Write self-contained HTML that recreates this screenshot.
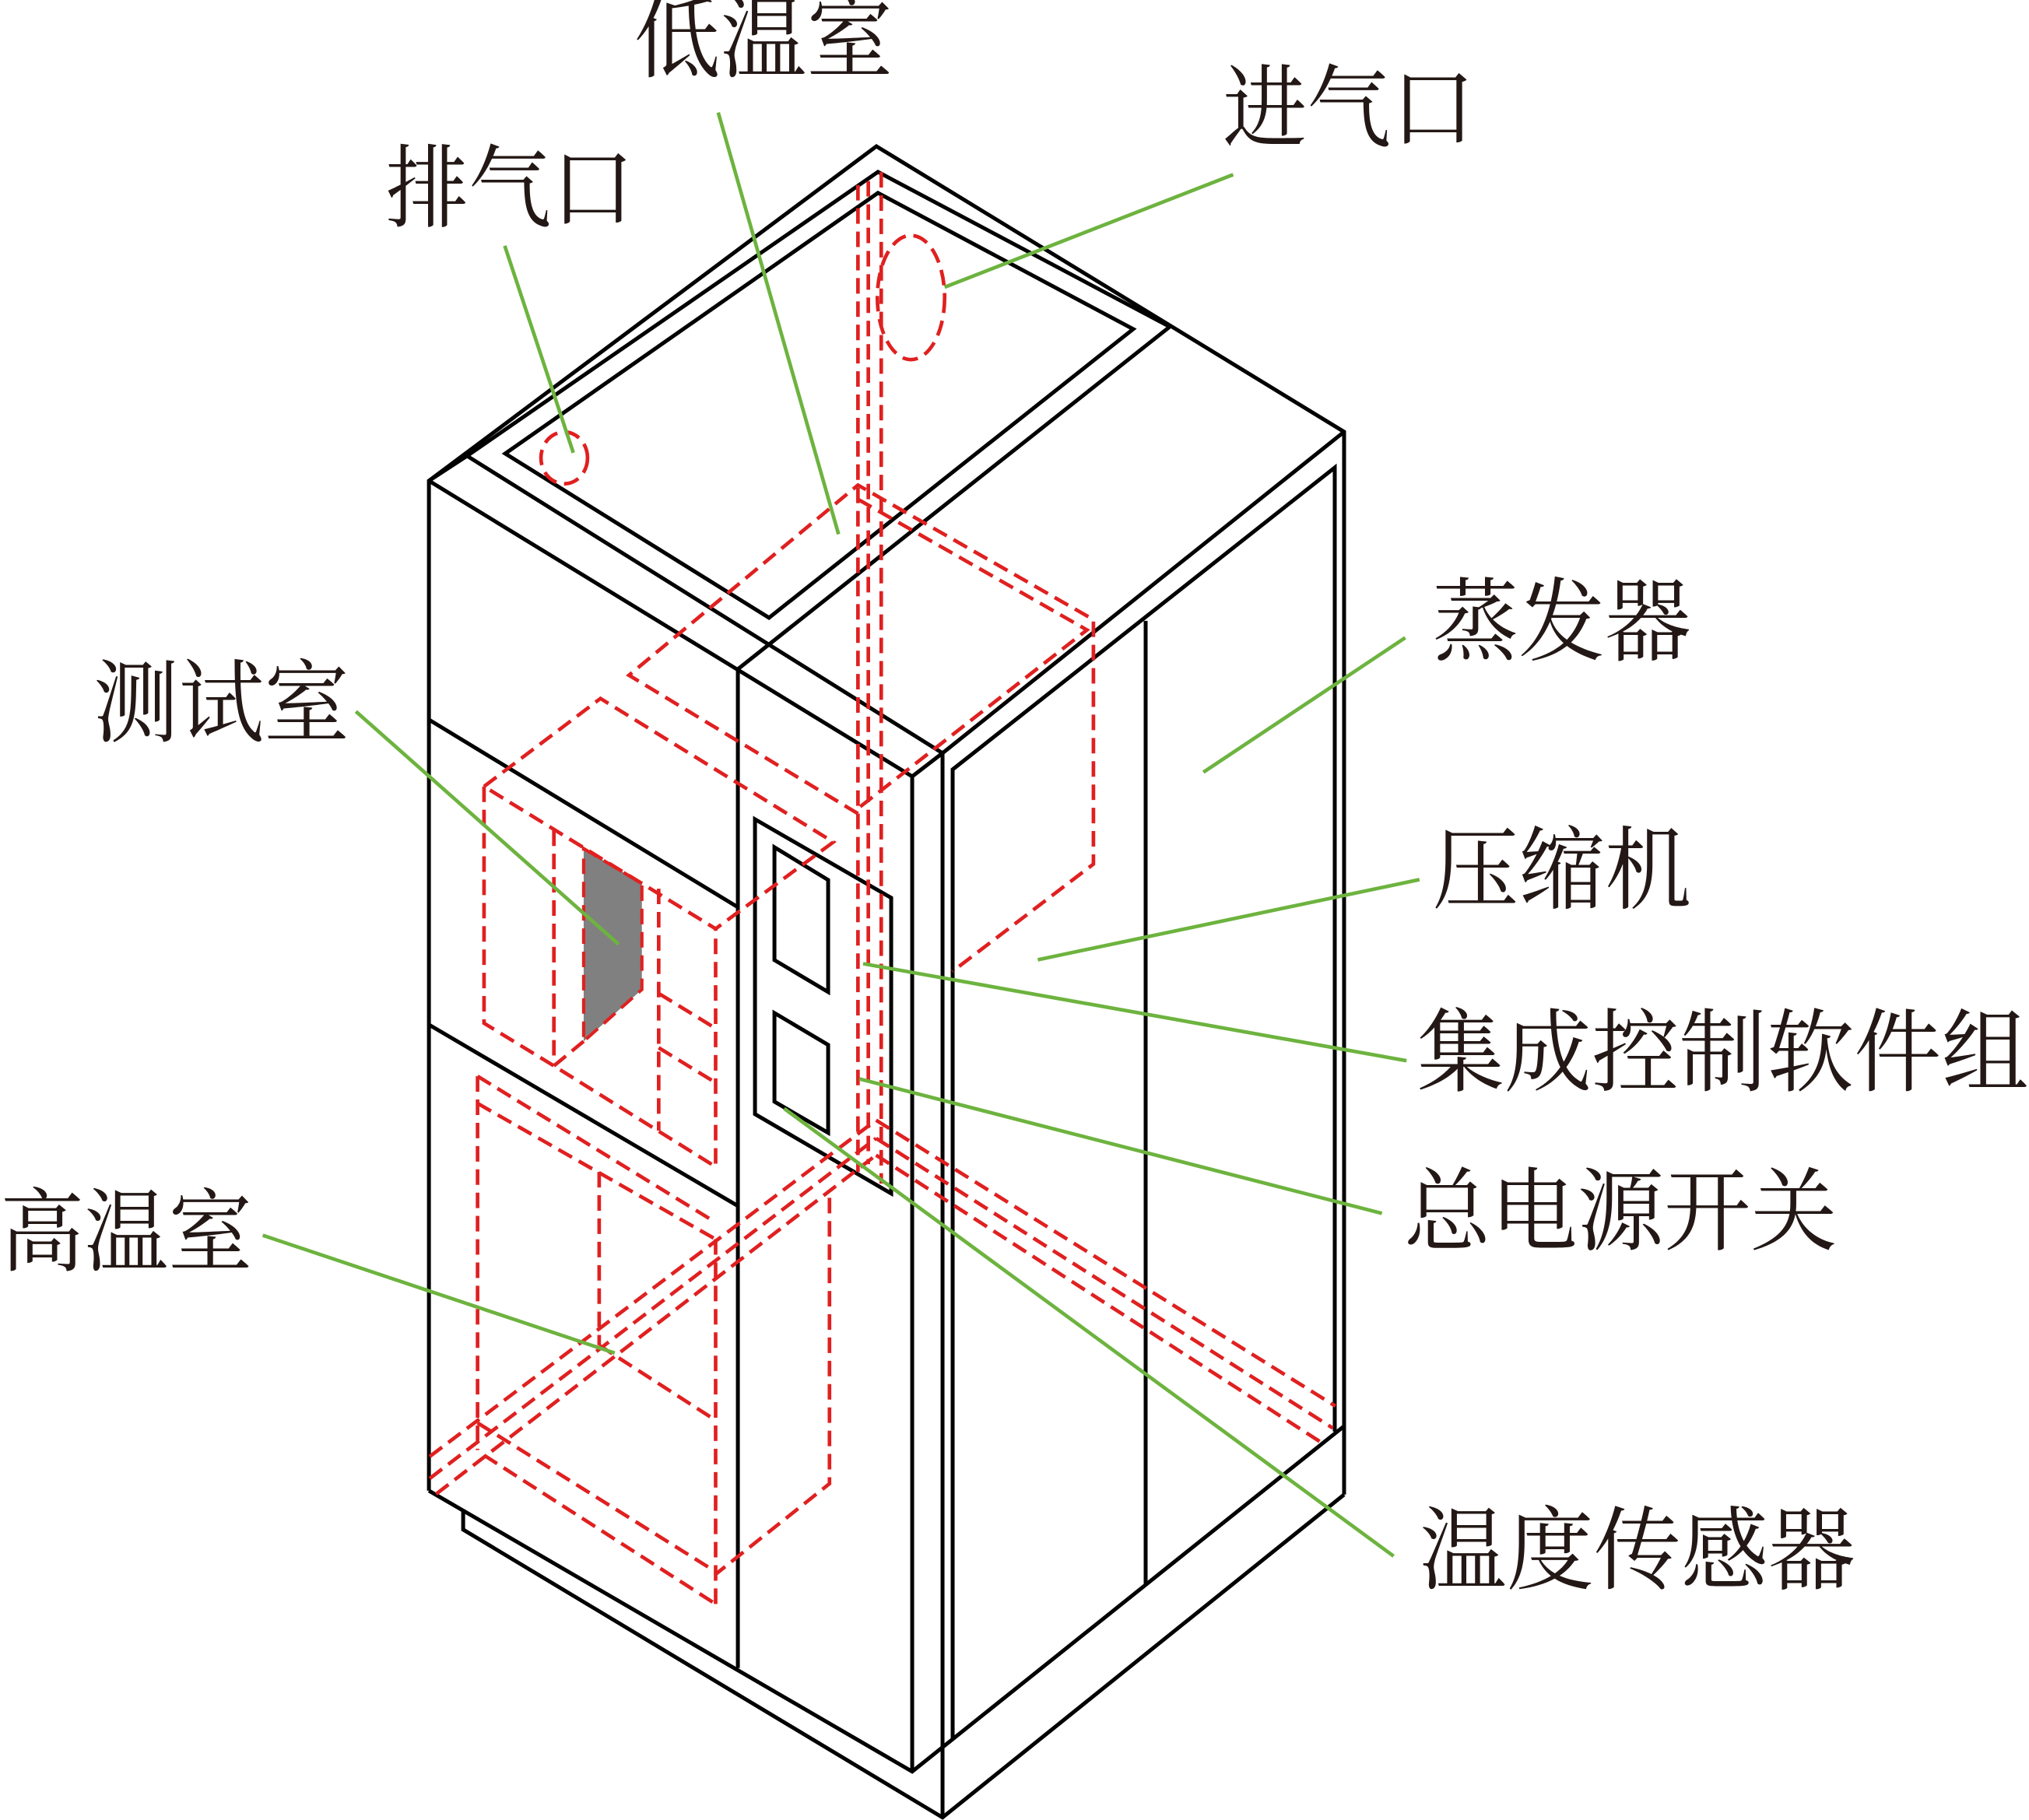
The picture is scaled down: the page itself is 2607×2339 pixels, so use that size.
<!DOCTYPE html>
<html><head><meta charset="utf-8"><style>
html,body{margin:0;padding:0;background:#fff;}
svg{display:block;}
text{font-family:"Liberation Serif","Noto Serif CJK SC",serif;font-size:70px;fill:#231815;}
</style></head><body>
<svg width="2607" height="2339" viewBox="0 0 1568 1407" xmlns="http://www.w3.org/2000/svg">
<rect width="1568" height="1407" fill="#fff"/>
<g transform="scale(0.60147)" fill="none" stroke="#000" stroke-width="5" stroke-linejoin="miter">
  <polyline points="551,1916 551,618 1126,188 1727,555 1727,1921"/>
  <polyline points="551,618 600,586 1211,968"/>
  <line x1="551" y1="618" x2="1172" y2="998"/>
  <polyline points="600,586 1128,221 1503,420"/>
  <polygon points="649,583 1128,248 1456,423 988,794"/>
  <line x1="1503" y1="420" x2="948" y2="860"/>
  <line x1="948" y1="860" x2="948" y2="2144"/>
  <polyline points="1172,2277 1172,998 1211,968 1727,555"/>
  <line x1="1211" y1="968" x2="1211" y2="2336"/>
  <polyline points="1224,2235 1224,989 1715,601 1715,1840"/>
  <line x1="1472" y1="798" x2="1472" y2="2037"/>
  <polyline points="551,1916 1172,2277 1727,1833"/>
  <polyline points="595,1940 595,1966 1211,2336 1727,1921"/>
  <line x1="551" y1="925" x2="948" y2="1166"/>
  <line x1="551" y1="1317" x2="948" y2="1550"/>
  <polygon points="970,1053 1145,1154 1145,1534 970,1432"/>
  <polygon points="995,1089 1064,1131 1064,1275 995,1234"/>
  <polygon points="995,1302 1064,1343 1064,1456 995,1416"/>
</g>
<polygon points="451,656 496,683 496,765 451,805" fill="#808080" stroke="#e02020" stroke-width="2.5" stroke-dasharray="12,6"/>
<g fill="none" stroke="#e02020" stroke-width="2.8" stroke-dasharray="12,6">
  <line x1="663" y1="143" x2="663" y2="906"/>
  <line x1="671" y1="140" x2="671" y2="900"/>
  <line x1="681" y1="133" x2="681" y2="915"/>
  <ellipse cx="436" cy="354" rx="18" ry="20"/>
  <ellipse cx="704" cy="230" rx="26" ry="48"/>
  <polyline points="663,629 486,522 663,375 845,479 845,668 736,751"/>
  <polyline points="663,386 840,487 663,625"/>
  <polygon points="374,608 464,540 644,651 553,718"/>
  <polyline points="374,608 374,791 428,824 553,902 553,718"/>
  <line x1="428" y1="642" x2="428" y2="824"/>
  <line x1="509" y1="687" x2="509" y2="874"/>
  <line x1="509" y1="768" x2="553" y2="795"/>
  <line x1="509" y1="810" x2="553" y2="837"/>
  <line x1="428" y1="824" x2="451" y2="805"/>
  <line x1="369" y1="832" x2="553" y2="945"/>
  <line x1="369" y1="853" x2="553" y2="958"/>
  <line x1="369" y1="832" x2="369" y2="1121"/>
  <line x1="553" y1="958" x2="553" y2="1241"/>
  <line x1="463" y1="906" x2="463" y2="1040"/>
  <line x1="463" y1="1040" x2="553" y2="1098"/>
  <polyline points="641,926 641,1147 553,1217"/>
  <line x1="369" y1="1100" x2="553" y2="1215"/>
  <line x1="374" y1="1125" x2="553" y2="1240"/>
  <line x1="332" y1="1126" x2="677" y2="866"/>
  <line x1="332" y1="1143" x2="677" y2="880"/>
  <line x1="337" y1="1155" x2="677" y2="893"/>
  <line x1="677" y1="866" x2="1032" y2="1087"/>
  <line x1="677" y1="880" x2="1030" y2="1104"/>
  <line x1="677" y1="893" x2="1024" y2="1117"/>
</g>
<g stroke="#6db33f" stroke-width="2.8">
  <line x1="390" y1="190" x2="443" y2="350"/>
  <line x1="555" y1="87" x2="648" y2="413"/>
  <line x1="953" y1="135" x2="730" y2="222"/>
  <line x1="1086" y1="493" x2="930" y2="597"/>
  <line x1="275" y1="550" x2="478" y2="730"/>
  <line x1="1097" y1="680" x2="802" y2="742"/>
  <line x1="1087" y1="820" x2="667" y2="745"/>
  <line x1="1068" y1="938" x2="664" y2="834"/>
  <line x1="203" y1="955" x2="475" y2="1046"/>
  <line x1="1077" y1="1203" x2="606" y2="857"/>
</g>
<text x="490" y="54" textLength="200" lengthAdjust="spacingAndGlyphs">低温室</text>
<text x="298" y="170" textLength="192" lengthAdjust="spacingAndGlyphs">排气口</text>
<text x="945" y="108" textLength="195" lengthAdjust="spacingAndGlyphs">进气口</text>
<text x="1107" y="505" textLength="200" lengthAdjust="spacingAndGlyphs">蒸发器</text>
<text x="72" y="568" textLength="198" lengthAdjust="spacingAndGlyphs">测试室</text>
<text x="1107" y="697" textLength="200" lengthAdjust="spacingAndGlyphs">压缩机</text>
<text x="1095" y="838" textLength="473" lengthAdjust="spacingAndGlyphs">集成控制软件组</text>
<text x="1085" y="961" textLength="335" lengthAdjust="spacingAndGlyphs">总电源开关</text>
<text x="0" y="977" textLength="195" lengthAdjust="spacingAndGlyphs">高温室</text>
<text x="1097" y="1223" textLength="337" lengthAdjust="spacingAndGlyphs">温度传感器</text>
</svg>
</body></html>
